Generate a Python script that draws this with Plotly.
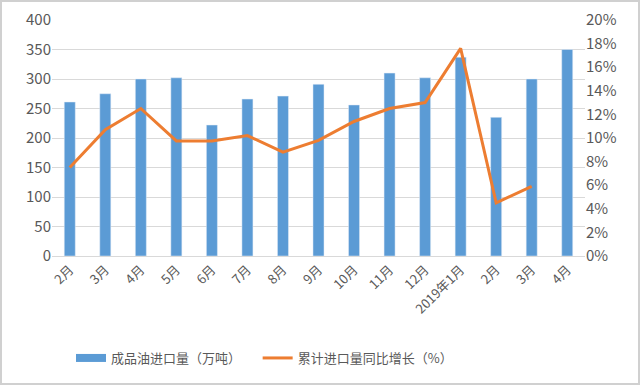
import plotly.graph_objects as go

months = ["2月", "3月", "4月", "5月", "6月", "7月", "8月", "9月", "10月", "11月", "12月",
          "2019年1月", "2月", "3月", "4月"]
imports = [261, 275, 300, 302, 222, 266, 271, 291, 256, 310, 302, 337, 235, 300, 350]
growth = [7.5, 10.7, 12.5, 9.75, 9.75, 10.2, 8.8, 9.8, 11.4, 12.5, 13.0, 17.6, 4.5, 5.9, None]

x = list(range(len(months)))
font = "SimSun, Noto Sans CJK SC, sans-serif"
gray = "#595959"
blue = "#5B9BD5"
orange = "#ED7D31"

fig = go.Figure()
fig.add_trace(go.Bar(x=x, y=imports, name="成品油进口量（万吨）", marker_color=blue,
                     width=0.31, yaxis="y", showlegend=False))
# legend swatch for bars (wide rectangle like the reference)
fig.add_trace(go.Scatter(x=[None], y=[None], name="成品油进口量（万吨）\u00a0\u00a0\u00a0\u00a0",
                         mode="lines", line=dict(color=blue, width=8), yaxis="y"))
fig.add_trace(go.Scatter(x=x, y=growth, name="累计进口量同比增长（%）", mode="lines",
                         line=dict(color=orange, width=3), yaxis="y2", connectgaps=False))

W, H = 640, 385
ml, mr, mt, mb = 52, 55, 20, 129
pw, ph = W - ml - mr, H - mt - mb

fig.update_layout(
    width=W, height=H,
    margin=dict(l=ml, r=mr, t=mt, b=mb),
    paper_bgcolor="white", plot_bgcolor="white",
    font=dict(family=font, color=gray, size=13),
    showlegend=True,
    legend=dict(orientation="h", x=(71 - ml) / pw, xanchor="left",
                y=(256 - 358) / ph, yanchor="middle",
                font=dict(size=13, color=gray), tracegroupgap=0),
    xaxis=dict(tickmode="array", tickvals=x, ticktext=months, tickangle=-45,
               range=[-0.5, len(months) - 0.5], showgrid=False, zeroline=False,
               showline=True, linecolor="#D9D9D9", ticks="", automargin=False,
               tickfont=dict(size=13, color=gray)),
    yaxis=dict(range=[0, 400], dtick=50, showgrid=True, gridcolor="#D9D9D9", zeroline=False,
               ticks="", automargin=False, tickfont=dict(size=15, color=gray)),
    yaxis2=dict(range=[0, 20], dtick=2, overlaying="y", side="right", showgrid=False,
                ticksuffix="%", zeroline=False, ticks="", automargin=False,
                tickfont=dict(size=15, color=gray)),
    shapes=[dict(type="rect", xref="paper", yref="paper",
                 x0=-(ml - 1) / pw, x1=(W - ml - 1) / pw,
                 y0=-(mb - 1) / ph, y1=(H - mb - 1) / ph,
                 line=dict(color="#D0D0D0", width=2), layer="below")],
)

fig.write_html("out.html", config={"displayModeBar": False},
               post_script="document.body.style.margin='0';document.body.style.overflow='hidden';")
